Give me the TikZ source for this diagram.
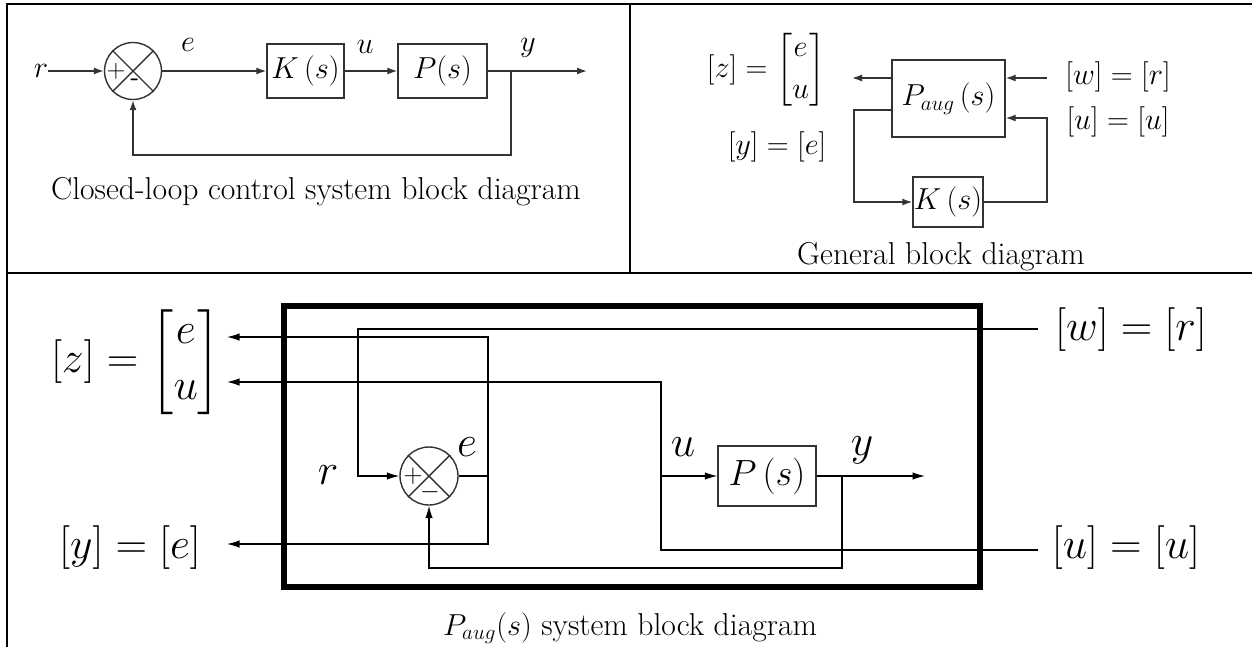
\documentclass[tikz,border=0pt]{standalone}
\usepackage{amsmath}
\usepackage{tikz}
\usetikzlibrary{arrows.meta,positioning,calc}
\definecolor{linegray}{HTML}{333333}

\begin{document}
\begin{tikzpicture}[x=0.2mm, y=-0.2mm,
    every node/.style={inner sep=0pt},
    lbl/.style={font=\fontsize{17}{20}\selectfont},
    lblr/.style={font=\fontsize{19}{22}\selectfont},
    lblb/.style={font=\fontsize{24}{28}\selectfont},
    capt/.style={font=\fontsize{18}{22}\selectfont},
    blk/.style={draw=linegray, line width=0.8pt},
    sumj/.style={circle, draw=linegray, line width=0.8pt, minimum size=11.4mm},
    sgn/.style={font=\fontsize{14}{15}\selectfont\sffamily},
    wire/.style={line width=0.8pt, linegray},
    arr/.style={-{Latex[length=2mm,width=1.4mm]}, wire},
    arrb/.style={-{Latex[length=2.5mm,width=1.5mm]}, line width=0.7pt, black},
    frm/.style={draw, line width=3.4pt},
    tabline/.style={line width=0.8pt}
  ]
  \useasboundingbox (0,0) rectangle (1252,647);
  % table
  \draw[tabline] (1252,4) -- (7,4) -- (7,647);
  \draw[tabline] (630,4) -- (630,273);
  \draw[tabline] (7,273) -- (1252,273);

  % closed loop
  \node[lbl] (r1) at (41,71) {$r$};
  \node[sumj] (s1) at (133,71) {};
  \draw[wire] (s1.north west) -- (s1.south east) (s1.north east) -- (s1.south west);
  \node[sgn] (p1) at (116,71) {+};
  \node[sgn] (m1) at (135,82) {\textbf{-}};
  \node[lbl] (e1) at (188,45) {$e$};
  \node[blk, minimum width=15.4mm, minimum height=10.8mm,
        font=\fontsize{19}{23}\selectfont] (K1) at (305.5,71) {$K\,(s)$};
  \node[lbl] (u1) at (365,47) {$u$};
  \node[blk, minimum width=17.8mm, minimum height=10.8mm,
        font=\fontsize{18}{21}\selectfont] (P1) at (442.5,71) {$P(s)$};
  \node[lbl] (y1) at (528,48) {$y$};
  \coordinate (o1) at (587,71);
  \coordinate (b1) at (511,71);
  \coordinate (f1) at (511,155);
  \draw[arr] (r1) -- (s1);
  \draw[arr] (s1) -- (K1);
  \draw[arr] (K1) -- (P1);
  \draw[arr] (P1) -- (o1);
  \draw[arr] (b1) -- (f1) -| (s1.south);
  \node[capt] (c1) at (316,192) {Closed-loop control system block diagram};

  % general
  \node[lblr] (z2) at (766,70) {$[z]=\begin{bmatrix} e\\[2pt] u\end{bmatrix}$};
  \node[lblr] (y2) at (777,147) {$[y]=[e]$};
  \node[blk, minimum width=22.6mm, minimum height=15.4mm,
        font=\fontsize{18}{21}\selectfont] (Pa2) at (948.5,98.5) {$P_{aug}\,(s)$};
  \node[blk, minimum width=14mm, minimum height=10mm,
        font=\fontsize{17}{20}\selectfont] (K2) at (948,202) {$K\,(s)$};
  \node[lblr] (w2) at (1118,77) {$[w]=[r]$};
  \node[lblr] (u2) at (1118,122) {$[u]=[u]$};
  \coordinate (zt2) at (852,78);
  \coordinate (wi2) at (1047,78);
  \coordinate (yo2) at (854,110);
  \coordinate (ui2) at (1047,118);
  \draw[arr] (Pa2.west |- zt2) -- (zt2);
  \draw[arr] (wi2) -- (Pa2.east |- wi2);
  \draw[arr] (Pa2.west |- yo2) -- (yo2) |- (K2.west);
  \draw[arr] (K2.east) -| (ui2) -- (Pa2.east |- ui2);
  \node[capt] (c2) at (941,257) {General block diagram};

  % P_aug inside
  \draw[frm] (284,306) rectangle (980,587);
  \node[lblb] (z3) at (136,362) {$[z]=\begin{bmatrix} e\\[4pt] u\end{bmatrix}$};
  \node[lblb, font=\fontsize{23}{27}\selectfont] (y3) at (130,548) {$[y]=[e]$};
  \node[lblb] (w3) at (1131,330) {$[w]=[r]$};
  \node[lblb] (u3) at (1126,548) {$[u]=[u]$};
  \node[lblb] (r3) at (328,475) {$r$};
  \node[sumj, minimum size=11.6mm] (s3) at (429,476) {};
  \draw[wire] (s3.north west) -- (s3.south east) (s3.north east) -- (s3.south west);
  \node[font=\fontsize{15}{16}\selectfont] (p3) at (413,476) {$+$};
  \node[font=\fontsize{15}{16}\selectfont] (m3) at (430,492) {$-$};
  \node[lblb] (e3) at (467,447) {$e$};
  \node[blk, minimum width=19.6mm, minimum height=12mm,
        font=\fontsize{21}{24}\selectfont] (P3) at (767,476) {$P\,(s)$};
  \node[lblb] (u3l) at (683,447) {$u$};
  \node[lblb] (y3l) at (862,450) {$y$};
  \coordinate (wi3) at (1038,329);
  \coordinate (wc3) at (358,329);
  \coordinate (eb3) at (488,476);
  \coordinate (et3) at (488,337);
  \coordinate (ed3) at (488,544);
  \coordinate (zt3) at (227,337);
  \coordinate (yt3) at (227,544);
  \coordinate (ui3) at (1038,550);
  \coordinate (uc3) at (661,550);
  \coordinate (ut3) at (661,382);
  \coordinate (zu3) at (227,382);
  \coordinate (ub3) at (661,476);
  \coordinate (yo3) at (925,476);
  \coordinate (yb3) at (842,476);
  \coordinate (yf3) at (842,568);
  \draw[arrb] (wi3) -- (wc3) |- (s3.west);
  \draw[wire, black, line width=0.7pt] (s3.east) -- (eb3);
  \draw[arrb] (eb3) -- (et3) -- (zt3);
  \draw[arrb] (eb3) -- (ed3) -- (yt3);
  \draw[arrb] (ui3) -- (uc3) -- (ut3) -- (zu3);
  \draw[arrb] (ub3) -- (P3.west);
  \draw[arrb] (P3.east) -- (yo3);
  \draw[arrb] (yb3) -- (yf3) -| (s3.south);
  \node[capt] (c3) at (630,628) {$P_{aug}(s)$ system block diagram};
\end{tikzpicture}
\end{document}
